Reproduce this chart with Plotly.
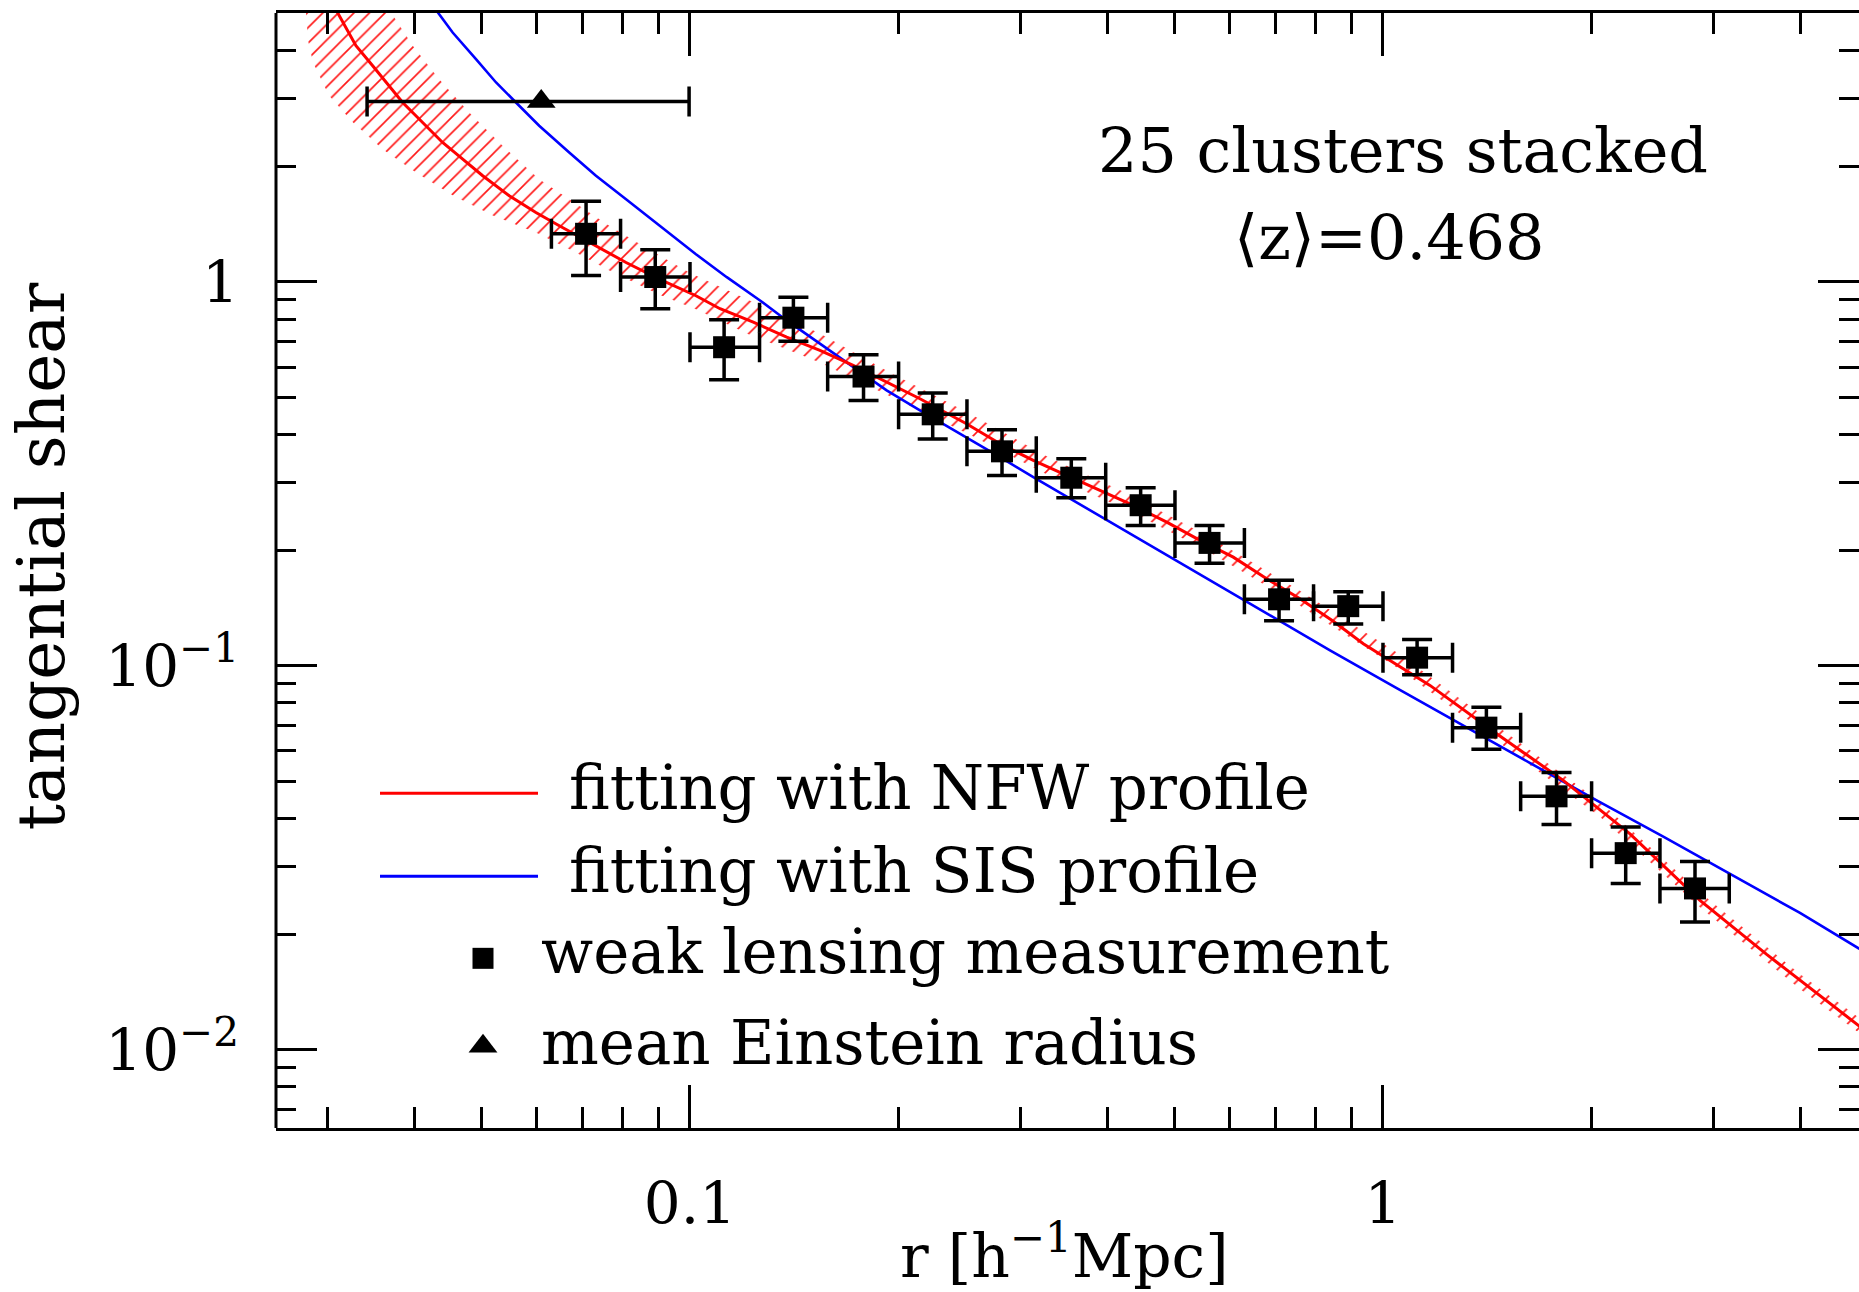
import plotly.graph_objects as go

# ---------------- data ----------------
r_wl = [0.0708, 0.0891, 0.112, 0.141, 0.178, 0.224, 0.282, 0.355, 0.447,
        0.562, 0.708, 0.891, 1.12, 1.41, 1.78, 2.24, 2.82]
g_wl = [1.335, 1.030, 0.676, 0.807, 0.567, 0.452, 0.362, 0.309, 0.262,
        0.209, 0.149, 0.143, 0.105, 0.069, 0.0457, 0.0325, 0.0263]
g_wl_hi = [1.623, 1.213, 0.797, 0.913, 0.646, 0.514, 0.412, 0.346, 0.291,
           0.232, 0.167, 0.156, 0.117, 0.078, 0.0527, 0.0380, 0.0309]
g_wl_lo = [1.040, 0.852, 0.556, 0.701, 0.491, 0.390, 0.313, 0.274, 0.232,
           0.185, 0.131, 0.1285, 0.0948, 0.0606, 0.0386, 0.0271, 0.0215]
r_wl_lo = [0.0631, 0.0794, 0.100, 0.126, 0.158, 0.200, 0.251, 0.316, 0.398,
           0.501, 0.631, 0.794, 1.00, 1.26, 1.58, 2.00, 2.51]
r_wl_hi = [0.0794, 0.100, 0.126, 0.158, 0.200, 0.251, 0.316, 0.398, 0.501,
           0.631, 0.794, 1.00, 1.26, 1.58, 2.00, 2.51, 3.16]

r_ein = [0.061]
g_ein = [2.95]
r_ein_lo = [0.0342]
r_ein_hi = [0.0997]

r_nfw = [0.0302, 0.0310, 0.03296, 0.03484, 0.03682, 0.03849, 0.04113, 0.04395,
         0.04699, 0.05022, 0.05485, 0.05993, 0.06477, 0.07317, 0.08086,
         0.0903, 0.1020, 0.1105, 0.1234, 0.1379, 0.1540, 0.1720, 0.1922,
         0.2147, 0.2506, 0.2802, 0.3129, 0.3496, 0.3906, 0.4362, 0.4875,
         0.5445, 0.6081, 0.6795, 0.7590, 0.8478, 0.9367, 1.169, 1.459,
         1.820, 2.272, 2.867, 3.578, 4.465, 4.863, 5.043]
g_nfw = [5.48, 5.04, 4.124, 3.658, 3.244, 2.935, 2.603, 2.309, 2.089, 1.891,
         1.677, 1.517, 1.401, 1.2425, 1.124, 1.017, 0.9207, 0.8515, 0.7857,
         0.7180, 0.6632, 0.6062, 0.5483, 0.4962, 0.4272, 0.3790, 0.3428,
         0.3133, 0.2863, 0.2617, 0.2367, 0.2122, 0.1919, 0.1686, 0.1496,
         0.1306, 0.1142, 0.0889, 0.0665, 0.0503, 0.0365, 0.02448, 0.01770,
         0.01298, 0.01151, 0.01096]

r_sis = [0.0418, 0.04324, 0.04545, 0.04911, 0.05250, 0.05609, 0.06059,
         0.06695, 0.07317, 0.08086, 0.0903, 0.1020, 0.1130, 0.1262, 0.1379,
         0.1540, 0.1720, 0.1922, 0.2147, 0.2506, 0.2802, 0.3129, 0.3496,
         0.3906, 0.4362, 0.4875, 0.5445, 0.6081, 0.7025, 0.8386, 1.0466,
         1.306, 1.630, 2.034, 2.538, 3.203, 3.997, 4.863, 5.043]
g_sis = [5.48, 5.04, 4.466, 3.806, 3.309, 2.935, 2.552, 2.175, 1.891, 1.643,
         1.401, 1.181, 1.029, 0.8950, 0.7939, 0.6902, 0.6000, 0.5217, 0.4627,
         0.3942, 0.3497, 0.3101, 0.2759, 0.2455, 0.2185, 0.1943, 0.1730,
         0.1539, 0.1322, 0.1097, 0.0874, 0.0699, 0.0557, 0.0446, 0.0359,
         0.0284, 0.0227, 0.01833, 0.01765]

# NFW uncertainty band (upper and lower edges)
r_band_up = [0.02792, 0.03702, 0.03981, 0.04346, 0.04802, 0.05366, 0.06059,
             0.06695, 0.07648, 0.08546, 0.09975, 0.1221, 0.1540, 0.1943,
             0.2535, 0.3307, 0.4314, 0.5628, 0.7590, 1.058, 1.475, 2.056,
             2.867, 3.997, 5.043]
g_band_up = [13.3, 5.04, 4.124, 3.376, 2.764, 2.264, 1.853, 1.643, 1.401,
             1.2425, 1.0586, 0.8929, 0.7340, 0.5810, 0.4536, 0.3478, 0.2788,
             0.2161, 0.1569, 0.1070, 0.06887, 0.04426, 0.02569, 0.01573,
             0.01153]
r_band_lo = [0.02792, 0.02811, 0.02858, 0.03013, 0.03264, 0.03606, 0.04024,
             0.04550, 0.05195, 0.05993, 0.06846, 0.07638, 0.09020, 0.1020,
             0.1221, 0.1540, 0.1943, 0.2535, 0.3307, 0.4314, 0.5628, 0.7590,
             1.058, 1.475, 2.056, 2.867, 3.997, 5.043]
g_band_lo = [5.04, 4.257, 3.731, 3.061, 2.603, 2.214, 1.929, 1.680, 1.490,
             1.346, 1.193, 1.072, 0.9278, 0.8494, 0.7279, 0.6170, 0.5031,
             0.3999, 0.3124, 0.2532, 0.1974, 0.1434, 0.0978, 0.0629, 0.04045,
             0.02348, 0.01438, 0.01054]

x_major = [0.1, 1]
x_major_text = ["0.1", "1"]
x_minor = [0.03, 0.04, 0.05, 0.06, 0.07, 0.08, 0.09,
           0.2, 0.3, 0.4, 0.5, 0.6, 0.7, 0.8, 0.9, 2, 3, 4]
y_major = [0.01, 0.1, 1]
y_major_text = ["10<sup>−2</sup>", "10<sup>−1</sup>", "1"]
y_minor = [0.007, 0.008, 0.009, 0.02, 0.03, 0.04, 0.05, 0.06, 0.07, 0.08,
           0.09, 0.2, 0.3, 0.4, 0.5, 0.6, 0.7, 0.8, 0.9, 2, 3, 4]

legend_labels = ["fitting with NFW profile", "fitting with SIS profile",
                 "weak lensing measurement", "mean Einstein radius"]
note_lines = ["25 clusters stacked", "⟨z⟩=0.468"]

# ---------------- figure ----------------
FONT = "DejaVu Serif"
W, H = 1859, 1292
ML, MR, MT, MB = 276, 0, 12.5, 164.3

fig = go.Figure()

# hatched NFW band
fig.add_trace(go.Scatter(
    x=r_band_up + r_band_lo[::-1], y=g_band_up + g_band_lo[::-1],
    mode="lines", line=dict(width=0, color="rgba(0,0,0,0)"),
    fill="toself", fillcolor="rgba(0,0,0,0)",
    fillpattern=dict(shape="/", fgcolor="rgba(255,0,0,0.9)",
                     bgcolor="rgba(0,0,0,0)", size=11, solidity=0.15,
                     fillmode="replace"),
    hoverinfo="skip", showlegend=False))

fig.add_trace(go.Scatter(x=r_sis, y=g_sis, mode="lines",
                         line=dict(color="#0000ff", width=2.6),
                         showlegend=False))
fig.add_trace(go.Scatter(x=r_nfw, y=g_nfw, mode="lines",
                         line=dict(color="#ff0000", width=3),
                         showlegend=False))

def err(vals, hi, lo):
    return ([h - v for v, h in zip(vals, hi)], [v - l for v, l in zip(vals, lo)])

ey_p, ey_m = err(g_wl, g_wl_hi, g_wl_lo)
ex_p, ex_m = err(r_wl, r_wl_hi, r_wl_lo)
fig.add_trace(go.Scatter(
    x=r_wl, y=g_wl, mode="markers",
    marker=dict(symbol="square", size=22, color="black"),
    error_y=dict(type="data", symmetric=False, array=ey_p, arrayminus=ey_m,
                 color="black", thickness=3.5, width=15),
    error_x=dict(type="data", symmetric=False, array=ex_p, arrayminus=ex_m,
                 color="black", thickness=3.5, width=15),
    showlegend=False))

tx_p, tx_m = err(r_ein, r_ein_hi, r_ein_lo)
fig.add_trace(go.Scatter(
    x=r_ein, y=g_ein, mode="markers",
    marker=dict(symbol="triangle-up", size=25, color="black"),
    error_x=dict(type="data", symmetric=False, array=tx_p, arrayminus=tx_m,
                 color="black", thickness=3.5, width=15),
    showlegend=False))

# ---- legend keys drawn on an overlay axis spanning the plot area (0..1) ----
def px2paper_x(px):
    return (px - ML) / (W - ML - MR)

def px2paper_y(py):
    return (H - MB - py) / (H - MB - MT)

key_line_x = [px2paper_x(380), px2paper_x(538)]
fig.add_trace(go.Scatter(x=key_line_x, y=[px2paper_y(793)] * 2, mode="lines",
                         line=dict(color="#ff0000", width=3),
                         xaxis="x2", yaxis="y2", showlegend=False))
fig.add_trace(go.Scatter(x=key_line_x, y=[px2paper_y(876)] * 2, mode="lines",
                         line=dict(color="#0000ff", width=3),
                         xaxis="x2", yaxis="y2", showlegend=False))
fig.add_trace(go.Scatter(x=[px2paper_x(483)], y=[px2paper_y(958)], mode="markers",
                         marker=dict(symbol="square", size=21, color="black"),
                         xaxis="x2", yaxis="y2", showlegend=False))
fig.add_trace(go.Scatter(x=[px2paper_x(483)], y=[px2paper_y(1046)], mode="markers",
                         marker=dict(symbol="triangle-up", size=25, color="black"),
                         xaxis="x2", yaxis="y2", showlegend=False))

annotations = []
def text(s, xpx, ypx, size=60, xanchor="center", angle=0):
    annotations.append(dict(text=s, x=px2paper_x(xpx), y=px2paper_y(ypx),
                            xref="paper", yref="paper", showarrow=False,
                            xanchor=xanchor, yanchor="middle", textangle=angle,
                            font=dict(family=FONT, size=size, color="black")))

text(note_lines[0], 1403, 150.2, size=62)
text(note_lines[1], 1389, 237.0, size=62)
text(legend_labels[0], 567, 786.8, size=61, xanchor="left")
text(legend_labels[1], 567, 870.5, size=61, xanchor="left")
text(legend_labels[2], 539, 950.8, size=61, xanchor="left")
text(legend_labels[3], 539, 1042.1, size=61, xanchor="left")
text("r [h<sup>−1</sup>Mpc]", 1064, 1252)
text("tangential shear", 41, 556, size=66, angle=-90)

# frame lines (left; right edge lies outside the picture)
shapes = [dict(type="line", xref="paper", yref="paper", x0=0, x1=0, y0=0, y1=1,
               line=dict(color="black", width=3))]

axis_common = dict(showgrid=False, zeroline=False, ticks="inside",
                   tickcolor="black", tickwidth=2.5, mirror="ticks",
                   automargin=False,
                   tickfont=dict(family=FONT, size=58, color="black"))

fig.update_layout(
    width=W, height=H,
    margin=dict(l=ML, r=MR, t=MT, b=MB, pad=0),
    paper_bgcolor="white", plot_bgcolor="white",
    showlegend=False,
    xaxis=dict(type="log", range=[-1.5974, 0.6869],
               tickmode="array", tickvals=x_major, ticktext=x_major_text,
               ticklen=43, showline=True, linewidth=3, linecolor="black",
               ticklabelstandoff=22,
               minor=dict(tickmode="array", tickvals=x_minor, ticks="inside",
                          ticklen=21, tickwidth=2.5, tickcolor="black",
                          showgrid=False),
               **axis_common),
    yaxis=dict(type="log", range=[-2.2042, 0.7007],
               tickmode="array", tickvals=y_major, ticktext=y_major_text,
               ticklen=41, showline=False,
               ticklabelstandoff=36,
               minor=dict(tickmode="array", tickvals=y_minor, ticks="inside",
                          ticklen=20, tickwidth=2.5, tickcolor="black",
                          showgrid=False),
               **axis_common),
    xaxis2=dict(overlaying="x", range=[0, 1], visible=False, anchor="y2"),
    yaxis2=dict(overlaying="y", range=[0, 1], visible=False, anchor="x2"),
    annotations=annotations,
    shapes=shapes,
)

fig.write_html("out.html")
